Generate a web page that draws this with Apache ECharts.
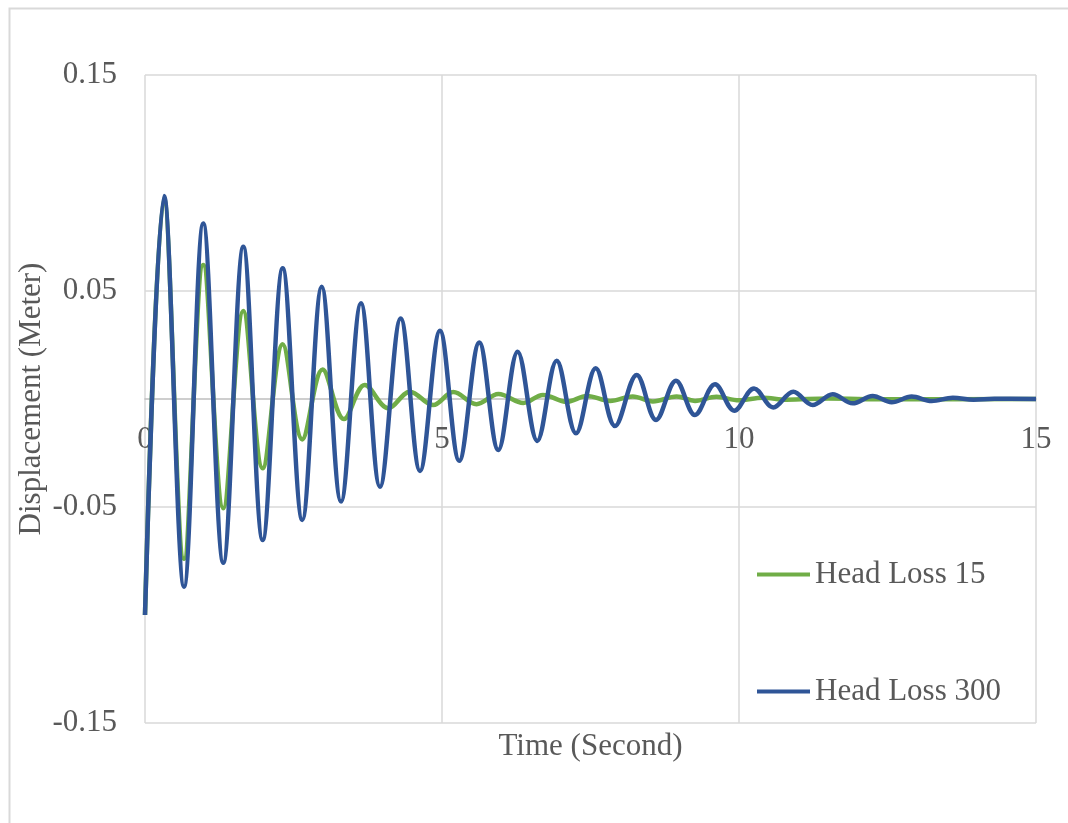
<!DOCTYPE html>
<html>
<head>
<meta charset="utf-8">
<script src="https://cdn.jsdelivr.net/npm/echarts@6/dist/echarts.min.js"></script>
<style>
html,body{margin:0;padding:0;background:#fff;}
#c{width:1068px;height:823px;}
</style>
</head>
<body>
<div id="c"></div>
<script>
// Turning points (peaks / troughs) of each curve
const seriesNames = ['Head Loss 15', 'Head Loss 300'];
const xTicks = [0, 5, 10, 15];
const yTicks = [-0.15, -0.05, 0.05, 0.15];

const greenT = [0, 0.32, 0.657, 0.981, 1.318, 1.655, 1.981, 2.318, 2.648, 2.99, 3.35, 3.70, 4.096, 4.46, 4.85,
  5.19, 5.58, 5.95, 6.37, 6.70, 7.10, 7.44, 7.83, 8.21, 8.55, 8.95, 9.26, 9.62, 10.0, 10.4, 10.8, 11.5, 12.5, 15];
const greenY = [-0.100, 0.093, -0.074, 0.062, -0.0506, 0.0407, -0.0321, 0.0253, -0.0187, 0.0137, -0.0093, 0.0065,
  -0.0043, 0.0034, -0.0028, 0.0032, -0.0024, 0.0023, -0.0018, 0.0019, -0.0013, 0.0014, -0.0009, 0.0012, -0.0011,
  0.0012, -0.0009, 0.0010, -0.0006, 0.0006, -0.0003, 0.0002, -0.0001, 0];

const blueT = [0, 0.32, 0.657, 0.981, 1.318, 1.655, 1.981, 2.318, 2.648, 2.975, 3.30, 3.636, 3.956, 4.305, 4.63,
  4.966, 5.291, 5.628, 5.948, 6.274, 6.604, 6.931, 7.256, 7.588, 7.912, 8.278, 8.603, 8.939, 9.259, 9.596, 9.921,
  10.253, 10.577, 10.914, 11.24, 11.577, 11.914, 12.25, 12.57, 12.907, 13.244, 13.6, 13.95, 14.3, 15];
const blueY = [-0.100, 0.094, -0.0869, 0.0813, -0.0758, 0.0705, -0.0653, 0.0605, -0.056, 0.052, -0.0475, 0.0443,
  -0.0406, 0.0373, -0.0333, 0.0316, -0.0286, 0.0262, -0.0236, 0.0219, -0.0194, 0.0177, -0.0159, 0.0142, -0.0125,
  0.0111, -0.0097, 0.0085, -0.0074, 0.0068, -0.0054, 0.0049, -0.0039, 0.0034, -0.0028, 0.0022, -0.0020, 0.0014,
  -0.0015, 0.0011, -0.0009, 0.0006, -0.0003, 0.0001, 0];

const FONT = '"Liberation Serif", "Times New Roman", serif';
const TXT = '#595959';
const pair = (t, y) => t.map((v, i) => [v, y[i]]);

const GRID_TOP = 75, GRID_BOTTOM = 100, CH = 823;
const plotH = CH - GRID_TOP - GRID_BOTTOM;
const yMin = yTicks[0], yMax = yTicks[yTicks.length - 1];
// the value axis is drawn where y = 0 crosses, as in the original chart
const zeroOffset = -plotH * (0 - yMin) / (yMax - yMin);

const chart = echarts.init(document.getElementById('c'), null, {renderer: 'canvas'});
chart.setOption({
  animation: false,
  backgroundColor: '#fff',
  graphic: [{
    type: 'rect', left: 7, top: 6, silent: true,
    shape: {width: 1100, height: 900},
    style: {fill: 'none', stroke: '#D9D9D9', lineWidth: 2}
  }],
  grid: {left: 145, right: 32, top: GRID_TOP, bottom: GRID_BOTTOM, containLabel: false, outerBoundsMode: 'none'},
  legend: {
    data: seriesNames, orient: 'vertical', left: 757, top: 559, padding: 0,
    icon: 'rect', itemWidth: 53, itemHeight: 4, itemGap: 86,
    textStyle: {fontFamily: FONT, fontSize: 31, color: TXT}
  },
  xAxis: [{
    type: 'value', min: xTicks[0], max: xTicks[xTicks.length - 1], interval: 5, position: 'bottom',
    name: 'Time (Second)', nameLocation: 'middle', nameGap: 8, nameMoveOverlap: false,
    nameTextStyle: {fontFamily: FONT, fontSize: 31, color: TXT},
    axisLine: {show: false, onZero: false},
    axisTick: {show: false},
    axisLabel: {show: false},
    splitLine: {show: true, lineStyle: {color: '#D9D9D9', width: 1.5}}
  }, {
    type: 'value', min: xTicks[0], max: xTicks[xTicks.length - 1], interval: 5, position: 'bottom',
    offset: zeroOffset,
    axisLine: {show: true, onZero: false, lineStyle: {color: '#BFBFBF', width: 1.5}},
    axisTick: {show: false},
    axisLabel: {fontFamily: FONT, fontSize: 31, color: TXT, margin: 25},
    splitLine: {show: false}
  }],
  yAxis: {
    type: 'value', min: yMin, max: yMax, interval: 0.1,
    name: 'Displacement (Meter)', nameLocation: 'middle', nameGap: 98, nameMoveOverlap: false,
    nameTextStyle: {fontFamily: FONT, fontSize: 31, color: TXT},
    axisLine: {show: false},
    axisTick: {show: false},
    axisLabel: {fontFamily: FONT, fontSize: 31, color: TXT, margin: 28,
      formatter: v => (Math.round(v * 100) / 100).toFixed(2)},
    splitLine: {show: true, lineStyle: {color: '#D9D9D9', width: 1.5}}
  },
  series: [
    {name: seriesNames[0], type: 'line', xAxisIndex: 0, data: pair(greenT, greenY), smooth: 0.36, symbol: 'none',
      lineStyle: {color: '#70AD47', width: 4.5}, itemStyle: {color: '#70AD47'}},
    {name: seriesNames[1], type: 'line', xAxisIndex: 0, data: pair(blueT, blueY), smooth: 0.36, symbol: 'none',
      lineStyle: {color: '#2F5597', width: 4.5}, itemStyle: {color: '#2F5597'}}
  ]
});
</script>
</body>
</html>
